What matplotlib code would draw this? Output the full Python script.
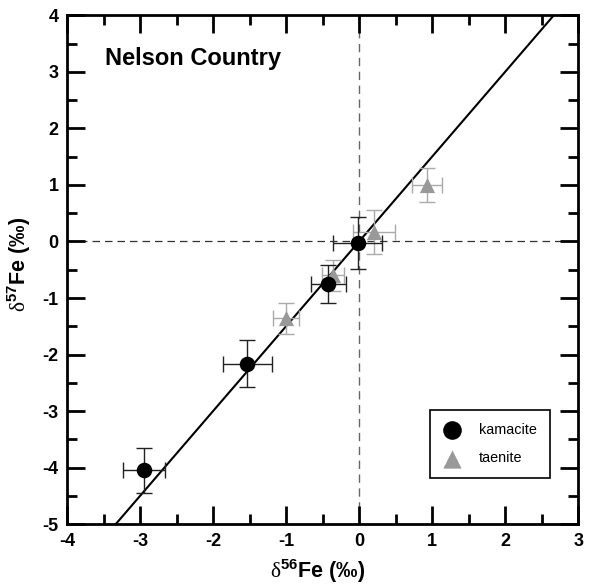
import numpy as np
import matplotlib
matplotlib.use("Agg")
import matplotlib.pyplot as plt
from matplotlib.ticker import MultipleLocator

plt.rcParams['font.family'] = ['Liberation Sans', 'DejaVu Sans']
plt.rcParams['axes.unicode_minus'] = False
plt.rcParams['mathtext.fontset'] = 'custom'
plt.rcParams['mathtext.rm'] = 'Liberation Serif'
plt.rcParams['mathtext.bf'] = 'Liberation Sans:bold'

# kamacite analyses
kam_d56 = [-2.95, -1.53, -0.42, -0.02]
kam_d57 = [-4.05, -2.16, -0.75, -0.03]
kam_err56 = [0.29, 0.34, 0.24, 0.34]
kam_err57 = [0.40, 0.42, 0.33, 0.46]

# taenite analyses
tae_d56 = [-1.00, -0.36, 0.20, 0.93]
tae_d57 = [-1.36, -0.60, 0.16, 1.00]
tae_err56 = [0.18, 0.15, 0.29, 0.21]
tae_err57 = [0.27, 0.27, 0.39, 0.30]

# mass-dependent fractionation line
slope = 1.5
intercept = 0.0

fig = plt.figure(figsize=(5.93, 5.87), dpi=100)
ax = fig.add_axes([0.113, 0.107, 0.862, 0.867])

ax.axhline(0, color='#333333', lw=0.9, ls=(0, (6, 4)), zorder=1)
ax.axvline(0, color='#666666', lw=1.0, ls=(0, (6, 4)), zorder=1)

xl = np.array([-4, 3])
ax.plot(xl, slope * xl + intercept, color='black', lw=1.5, zorder=2)

ax.errorbar(tae_d56, tae_d57, xerr=tae_err56, yerr=tae_err57, fmt='none',
            ecolor='#aaaaaa', elinewidth=1.0, capsize=6, capthick=1.0, zorder=3)
ax.errorbar(kam_d56, kam_d57, xerr=kam_err56, yerr=kam_err57, fmt='none',
            ecolor='#222222', elinewidth=1.0, capsize=6, capthick=1.0, zorder=4)
ax.scatter(tae_d56, tae_d57, marker='^', s=120, color='#999999', lw=0,
           zorder=5, label='taenite')
ax.scatter(kam_d56, kam_d57, marker='o', s=125, color='black', lw=0,
           zorder=6, label='kamacite')

ax.set_xlim(-4, 3)
ax.set_ylim(-5, 4)
ax.xaxis.set_major_locator(MultipleLocator(1))
ax.xaxis.set_minor_locator(MultipleLocator(0.5))
ax.yaxis.set_major_locator(MultipleLocator(1))
ax.yaxis.set_minor_locator(MultipleLocator(0.5))
ax.tick_params(which='both', direction='in', top=True, right=True, width=2,
               labelsize=13, pad=6)
ax.tick_params(which='major', length=13)
ax.tick_params(which='minor', length=7)
for lab in ax.get_xticklabels() + ax.get_yticklabels():
    lab.set_fontweight('bold')
for sp in ax.spines.values():
    sp.set_linewidth(2)

ax.set_xlabel(r'$\mathrm{\delta}^{\mathbf{56}}$Fe (‰)', fontsize=15.5,
              fontweight='bold')
ax.set_ylabel(r'$\mathrm{\delta}^{\mathbf{57}}$Fe (‰)', fontsize=15.5,
              fontweight='bold')
ax.xaxis.set_label_coords(0.491, -0.064)
ax.yaxis.set_label_coords(-0.066, 0.51)

ax.text(-3.48, 3.24, 'Nelson Country', fontsize=17, fontweight='bold',
        va='center', ha='left')

handles, labels = ax.get_legend_handles_labels()
leg = ax.legend(handles[::-1], labels[::-1], loc='lower right',
                bbox_to_anchor=(0.944, 0.09), fancybox=False, edgecolor='black',
                framealpha=1, prop={'size': 10.4, 'weight': 'normal'},
                borderpad=0.9, handlelength=1.2, handletextpad=1.25,
                labelspacing=1.0, borderaxespad=0, markerscale=1.2)
leg.get_frame().set_linewidth(1.2)

fig.savefig('out.png', dpi=100)
